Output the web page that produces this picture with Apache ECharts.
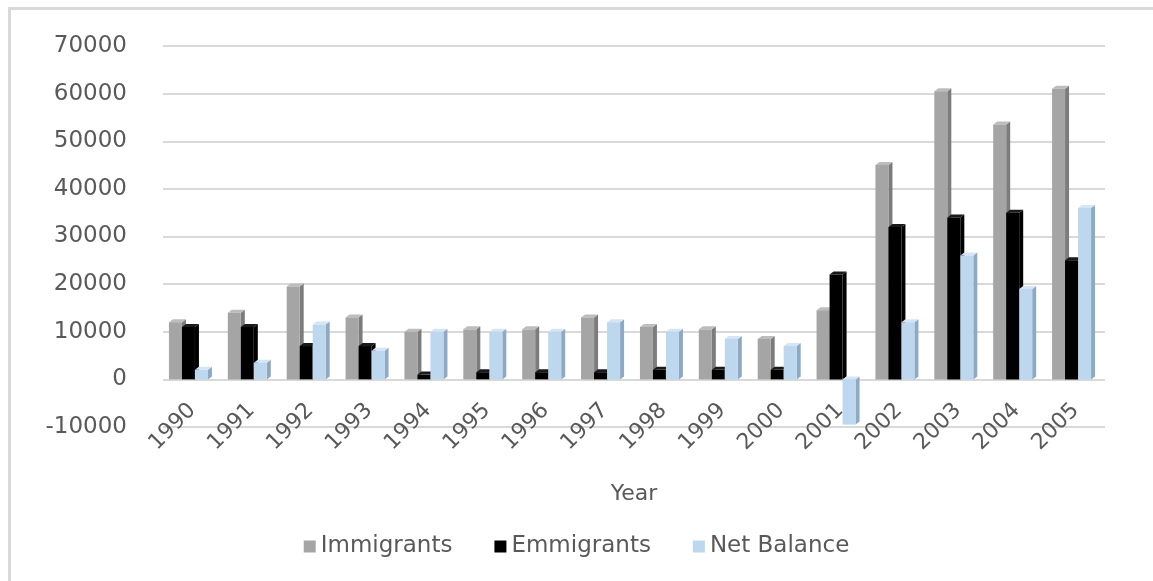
<!DOCTYPE html>
<html><head><meta charset="utf-8">
<script src="https://cdn.jsdelivr.net/npm/echarts@6/dist/echarts.min.js"></script>
<style>
html,body{margin:0;padding:0;background:#fff;}
#wrap{position:relative;width:1153px;height:581px;overflow:hidden;}
#frame{position:absolute;left:8px;top:7px;width:1160px;height:600px;border-left:3px solid #d9d9d9;border-top:3px solid #d9d9d9;box-sizing:border-box;}
#chart{position:absolute;left:0;top:0;width:1153px;height:581px;}
</style></head>
<body><div id="wrap"><div id="frame"></div><div id="chart"></div></div>
<script>
const years = ['1990','1991','1992','1993','1994','1995','1996','1997','1998','1999','2000','2001','2002','2003','2004','2005'];
const immigrants = [12000,14000,19500,13000,10000,10500,10500,13000,11000,10500,8500,14500,45000,60500,53500,61000];
const emmigrants = [11000,11000,7000,7000,1000,1500,1500,1500,2000,2000,2000,22000,32000,34000,35000,25000];
const netBalance = [2000,3500,11500,6000,10000,10000,10000,12000,10000,8500,7000,-9500,12000,26000,19000,36000];

const W = 13, DX = 4, DY = 3;
function makeSeries(name, values, offset, front, side, top){
  return {
    name, type:'custom',
    itemStyle:{color:front},
    encode:{x:0,y:1},
    data: values.map((v,i)=>[i,v]),
    renderItem:function(params, api){
      const idx = api.value(0), val = api.value(1);
      const b = api.coord([idx,0]);
      const t = api.coord([idx,val]);
      const x0 = b[0] + offset - W/2;
      const yTop = Math.min(b[1], t[1]);
      const yBot = Math.max(b[1], t[1]);
      return {type:'group', children:[
        {type:'polygon', shape:{points:[[x0+W,yTop],[x0+W+DX,yTop-DY],[x0+W+DX,yBot-DY],[x0+W,yBot]]}, style:{fill:side}},
        {type:'polygon', shape:{points:[[x0,yTop],[x0+DX,yTop-DY],[x0+W+DX,yTop-DY],[x0+W,yTop]]}, style:{fill:top}},
        {type:'rect', shape:{x:x0,y:yTop,width:W,height:yBot-yTop}, style:{fill:front}}
      ]};
    }
  };
}

const chart = echarts.init(document.getElementById('chart'));
chart.setOption({
  animation:false,
  textStyle:{fontFamily:'DejaVu Sans', color:'#595959'},
  grid:{left:163,right:48,top:46,bottom:154,containLabel:false},
  legend:{
    bottom:18, left:'center', itemWidth:12, itemHeight:12, itemGap:42, icon:'rect',
    textStyle:{fontSize:23, color:'#595959', fontFamily:'DejaVu Sans'},
    data:['Immigrants','Emmigrants','Net Balance']
  },
  xAxis:{
    type:'category', data:years,
    name:'Year', nameLocation:'middle', nameGap:56, nameMoveOverlap:false,
    nameTextStyle:{fontSize:22,color:'#595959'},
    axisLine:{show:false,onZero:false}, axisTick:{show:false},
    axisLabel:{rotate:45, fontSize:22, color:'#595959', margin:-20, interval:0}
  },
  yAxis:{
    type:'value', min:-10000, max:70000, interval:10000,
    axisLabel:{fontSize:23, color:'#595959', margin:36, formatter:function(v){return String(v);}},
    axisLine:{show:false}, axisTick:{show:false},
    splitLine:{lineStyle:{color:'#d9d9d9', width:2}}
  },
  series:[
    makeSeries('Immigrants', immigrants, -17, '#a5a5a5', '#7c7c7c', '#bdbdbd'),
    makeSeries('Emmigrants', emmigrants, -4, '#000000', '#000000', '#1a1a1a'),
    makeSeries('Net Balance', netBalance, 9, '#bdd7ee', '#8ea9c1', '#d4e5f5')
  ]
});
</script></body></html>
